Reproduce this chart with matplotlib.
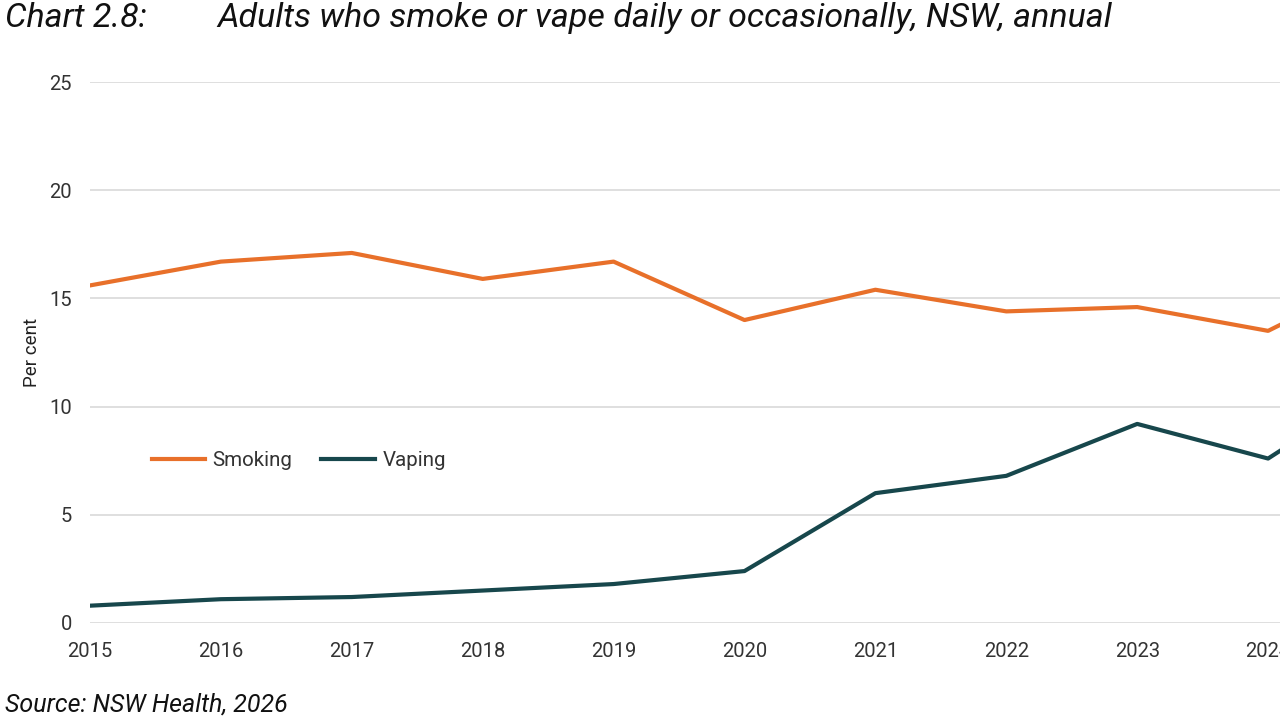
import matplotlib; matplotlib.use('Agg')
import matplotlib.pyplot as plt

plt.rcParams['font.family'] = ['Roboto', 'DejaVu Sans']

years = [2015, 2016, 2017, 2018, 2019, 2020, 2021, 2022, 2023, 2024, 2025]
smoking = [15.6, 16.7, 17.1, 15.9, 16.7, 14.0, 15.4, 14.4, 14.6, 13.5, 16.5]
vaping = [0.8, 1.1, 1.2, 1.5, 1.8, 2.4, 6.0, 6.8, 9.2, 7.6, 11.5]
yticks = [0, 5, 10, 15, 20, 25]

fig = plt.figure(figsize=(12.8, 7.2), dpi=100)
# axes runs off the right edge, as in the reference crop
ax = fig.add_axes([90/1280, 1-623/720, (1399-90)/1280, (623-82)/720])
ax.plot(years, smoking, color='#E8702A', lw=3, label='Smoking', solid_joinstyle='round')
ax.plot(years, vaping, color='#17474C', lw=3, label='Vaping', solid_joinstyle='round')

ax.set_xlim(2015, 2025); ax.set_ylim(0, 25)
ax.set_xticks(years[:-1])
ax.set_yticks(yticks)
ax.grid(axis='y', color='#D9D9D9', lw=1.2)
ax.set_axisbelow(True)
for s in ax.spines.values():
    s.set_visible(False)
ax.tick_params(length=0, labelsize=14.5, colors='#333333')
ax.tick_params(axis='x', pad=14)
ax.tick_params(axis='y', pad=13)
ax.set_ylabel('Per cent', fontsize=13.5, color='#222222', labelpad=6)

ax.legend(loc='center left', bbox_to_anchor=(133/1280, 1-461/720), bbox_transform=fig.transFigure,
          ncol=2, frameon=False, fontsize=14.8, handlelength=2.6, handletextpad=0.37, columnspacing=1.4,
          labelcolor='#333333')

fig.text(5/1280, 1-18/720, 'Chart 2.8:', fontsize=24.5, style='italic', va='center', color='#111111')
fig.text(217/1280, 1-18/720, 'Adults who smoke or vape daily or occasionally, NSW, annual',
         fontsize=24.5, style='italic', va='center', color='#111111')
fig.text(5/1280, 1-705/720, 'Source: NSW Health, 2026', fontsize=18, style='italic', va='center',
         color='#111111')

plt.savefig('out.png', dpi=100)
